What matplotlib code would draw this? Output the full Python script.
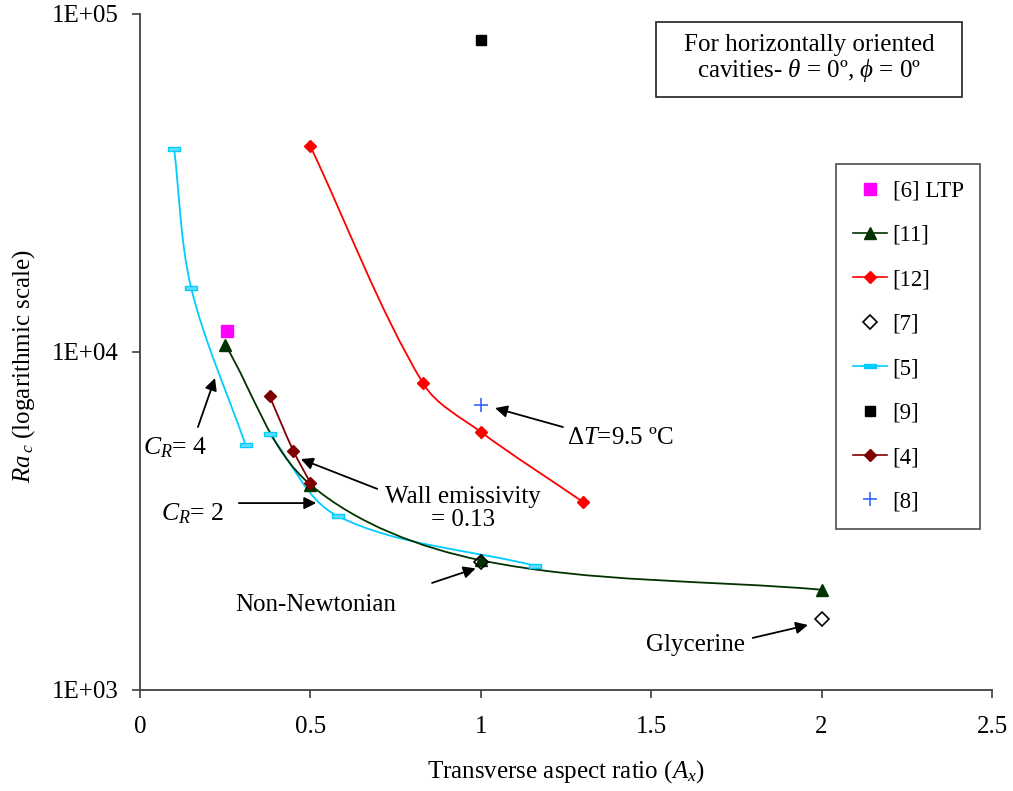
import numpy as np
import matplotlib
matplotlib.use("Agg")
import matplotlib.pyplot as plt
from matplotlib.path import Path
from matplotlib.patches import PathPatch, Rectangle
from matplotlib.lines import Line2D

plt.rcParams['font.family'] = ['Liberation Serif', 'DejaVu Serif']
plt.rcParams['mathtext.fontset'] = 'custom'
plt.rcParams['mathtext.rm'] = 'Liberation Serif'
plt.rcParams['mathtext.it'] = 'Liberation Serif:italic'
plt.rcParams['mathtext.bf'] = 'Liberation Serif:bold'

# ---------------- data ----------------
ltp6_x = [0.255]
ltp6_y = [11500]

ref11_x = [0.25, 0.5, 1.0, 2.0]
ref11_y = [10500, 4050, 2420, 1980]

ref12_x = [0.5, 0.83, 1.0, 1.3]
ref12_y = [40600, 8090, 5800, 3600]

ref7_x = [1.0, 2.0]
ref7_y = [2390, 1620]

ref5a_x = [0.1, 0.15, 0.31]
ref5a_y = [40000, 15500, 5300]
ref5b_x = [0.38, 0.58, 1.16]
ref5b_y = [5720, 3270, 2330]

ref9_x = [1.0]
ref9_y = [83800]

ref4_x = [0.38, 0.45, 0.5]
ref4_y = [7410, 5100, 4100]

ref8_x = [1.0]
ref8_y = [6970]

legend_labels = ["[6] LTP", "[11]", "[12]", "[7]", "[5]", "[9]", "[4]", "[8]"]
x_ticks = [0, 0.5, 1, 1.5, 2, 2.5]
x_tick_labels = ["0", "0.5", "1", "1.5", "2", "2.5"]
y_ticks = [1e3, 1e4, 1e5]
y_tick_labels = ["1E+03", "1E+04", "1E+05"]

# ---------------- styles ----------------
C6 = '#FF00FF'
C11 = '#003300'
C12 = '#FF0000'
C5 = '#00CCFF'
C4 = '#800000'
C8 = '#3366FF'
FS = 18

fig = plt.figure(figsize=(10.13, 7.91), dpi=100)
ax = fig.add_axes([140/1013, 1-690/791, (992-140)/1013, (690-14)/791])
ax.set_yscale('log')
ax.set_xlim(0, 2.5)
ax.set_ylim(1e3, 1e5)


def smooth(xs, ys, color, lw=1.3, z=2, t=0.33):
    pts = ax.transData.transform(np.column_stack([xs, ys]))
    n = len(pts)
    tang = []
    for i in range(n):
        a = pts[max(i - 1, 0)]
        b = pts[min(i + 1, n - 1)]
        d = b - a
        tang.append(d / np.hypot(*d))
    verts = [pts[0]]
    codes = [Path.MOVETO]
    for i in range(n - 1):
        L = np.hypot(*(pts[i + 1] - pts[i]))
        c1 = pts[i] + tang[i] * L * t
        c2 = pts[i + 1] - tang[i + 1] * L * t
        verts += [c1, c2, pts[i + 1]]
        codes += [Path.CURVE4] * 3
    v = ax.transData.inverted().transform(np.array(verts))
    patch = PathPatch(Path(v, codes), fill=False, edgecolor=color, lw=lw,
                      transform=ax.transData, zorder=z)
    ax.add_patch(patch)


dash = [(-1, -0.3), (1, -0.3), (1, 0.3), (-1, 0.3), (-1, -0.3)]

# [5]
smooth(ref5a_x, ref5a_y, C5, z=2)
smooth(ref5b_x, ref5b_y, C5, z=2)
ax.plot(ref5a_x + ref5b_x, ref5a_y + ref5b_y, ls='none', marker=dash, ms=8,
        mfc='#66DDFF', mec=C5, mew=1.0, zorder=3)
# [12]
smooth(ref12_x, ref12_y, C12, z=2)
ax.plot(ref12_x, ref12_y, ls='none', marker='D', ms=6, color=C12, zorder=3)
# [11]
smooth(ref11_x, ref11_y, C11, z=2)
ax.plot(ref11_x, ref11_y, ls='none', marker='^', ms=8.5, color=C11, zorder=3)
# [4]
smooth(ref4_x, ref4_y, C4, z=2)
ax.plot(ref4_x, ref4_y, ls='none', marker='D', ms=6, color=C4, zorder=4)
# [7]
ax.plot(ref7_x, ref7_y, ls='none', marker='D', ms=7, mfc='none', mec='black',
        mew=1.2, zorder=5)
# [6]
ax.plot(ltp6_x, ltp6_y, ls='none', marker='s', ms=8, color=C6, zorder=5)
# [9]
ax.plot(ref9_x, ref9_y, ls='none', marker='s', ms=7.5, color='black', zorder=5)
# [8]
ax.plot(ref8_x, ref8_y, ls='none', marker='+', ms=10, mew=1.2, color=C8, zorder=5)

# axes styling
for s in ['top', 'right']:
    ax.spines[s].set_visible(False)
for s in ['left', 'bottom']:
    ax.spines[s].set_color('#404040')
    ax.spines[s].set_linewidth(1.3)
ax.set_xticks(x_ticks)
ax.set_xticklabels(x_tick_labels)
ax.set_yticks(y_ticks)
ax.set_yticklabels(y_tick_labels)
ax.yaxis.set_minor_locator(matplotlib.ticker.NullLocator())
ax.tick_params(direction='out', length=5.5, width=1.2, color='#404040',
               labelsize=FS)
ax.tick_params(axis='y', pad=10)
ax.tick_params(axis='x', pad=13)

fig.text(566/1013, 1-772/791, r"Transverse aspect ratio ($A_x$)", fontsize=FS,
         ha='center', va='center')
fig.text(24/1013, 1-366/791, r"$Ra_{\,c}$ (logarithmic scale)", fontsize=FS,
         ha='center', va='center', rotation=90)

# legend
handles = [
    Line2D([], [], ls='none', marker='s', ms=8, color=C6),
    Line2D([], [], ls='-', lw=1.2, marker='^', ms=8, color=C11),
    Line2D([], [], ls='-', lw=1.2, marker='D', ms=6, color=C12),
    Line2D([], [], ls='none', marker='D', ms=7, mfc='none', mec='black', mew=1.2),
    Line2D([], [], ls='-', lw=1.2, marker=dash, ms=8, color=C5),
    Line2D([], [], ls='none', marker='s', ms=7.5, color='black'),
    Line2D([], [], ls='-', lw=1.2, marker='D', ms=6, color=C4),
    Line2D([], [], ls='none', marker='+', ms=10, mew=1.2, color=C8),
]
leg = ax.legend(handles, legend_labels, loc='upper left',
                bbox_to_anchor=((836-140)/852, (690-164)/676), borderaxespad=0,
                fontsize=16.5, frameon=True, fancybox=False, handlelength=1.5,
                handletextpad=0.25, labelspacing=1.02, borderpad=0.72)
leg.get_frame().set_edgecolor('#202020')
leg.get_frame().set_linewidth(1.2)

# title box
ax.add_patch(Rectangle(((656-140)/852, (690-97)/676), 306/852, 75/676,
                       transform=ax.transAxes, fill=True, fc='white',
                       ec='#202020', lw=1.2, zorder=6, clip_on=False))
ax.text((809-140)/852, (690-59)/676,
        "For horizontally oriented\ncavities- $\\theta$ = 0º, $\\phi$ = 0º",
        transform=ax.transAxes, ha='center', va='center', fontsize=FS,
        linespacing=1.1, zorder=7)

arrow = dict(arrowstyle='-|>', color='black', lw=1.3, mutation_scale=18,
             shrinkA=0, shrinkB=0)

ax.annotate("", xy=(0.220, 8375), xytext=(0.170, 5998), arrowprops=arrow)
ax.text(0.103, 5200, r"$C_R$= 4", ha='center', va='center', fontsize=18.5)

ax.annotate("", xy=(0.517, 3573), xytext=(0.290, 3573), arrowprops=arrow)
ax.text(0.153, 3330, r"$C_R$= 2", ha='center', va='center', fontsize=18.5)

ax.annotate("", xy=(0.472, 4822), xytext=(0.696, 3936), arrowprops=arrow)
ax.text(0.948, 3435, "Wall emissivity\n= 0.13", ha='center', va='center',
        fontsize=FS, linespacing=1.05)

ax.annotate("", xy=(1.042, 6825), xytext=(1.241, 5998), arrowprops=arrow)
ax.text(1.408, 5572, "Δ$T$=9.5 ºC", ha='center', va='center', fontsize=FS)

ax.annotate("", xy=(0.985, 2290), xytext=(0.857, 2074), arrowprops=arrow)
ax.text(0.516, 1783, "Non-Newtonian", ha='center', va='center', fontsize=FS)

ax.annotate("", xy=(1.960, 1557), xytext=(1.798, 1426), arrowprops=arrow)
ax.text(1.629, 1359, "Glycerine", ha='center', va='center', fontsize=FS)

fig.savefig("out.png", dpi=100)
